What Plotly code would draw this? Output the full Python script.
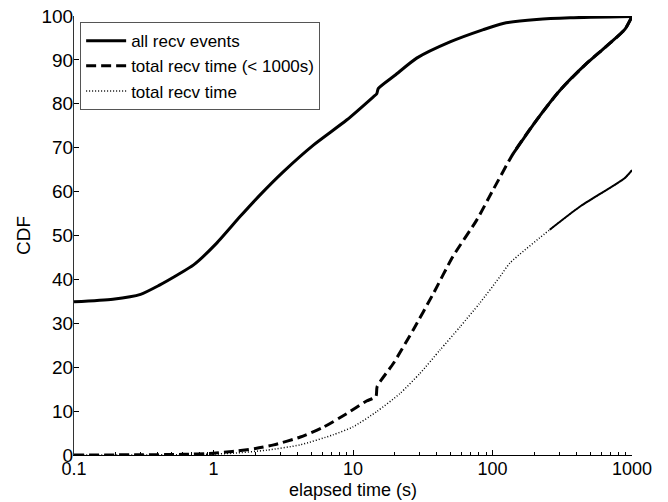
import plotly.graph_objects as go

# Elapsed time (s) and cumulative percentage for each series
all_events_t = [0.1, 0.19, 0.3, 0.41, 0.55, 0.72, 1.05, 1.55, 2.15, 3.16, 5.2, 9.0,
                14.0, 14.8, 15.2, 20, 28.6, 49.6, 86, 119, 207, 360, 1000]
all_events_cdf = [34.9, 35.5, 36.6, 38.7, 41.0, 43.3, 48.2, 54.3, 59.2, 64.5, 70.6, 76.3,
                  81.6, 82.3, 83.5, 86.5, 90.4, 94.1, 96.9, 98.3, 99.2, 99.6, 99.9]

short_total_t = [0.1, 0.3, 0.6, 1.0, 1.24, 1.5, 2.0, 2.7, 4.2, 6.1, 9.0, 12.5, 14.6, 14.9,
                 19.5, 27, 37.7, 52, 77, 101, 141, 207, 305, 473, 695, 891, 1000]
short_total_cdf = [0.0, 0.05, 0.15, 0.4, 0.7, 0.95, 1.5, 2.3, 4.1, 6.3, 9.4, 12.3, 13.3, 15.6,
                   20.9, 28.5, 36.8, 45.2, 53.5, 60.4, 68.7, 76.3, 83.1, 89.2, 93.8, 97.0, 99.9]

total_t = [0.1, 0.5, 1.0, 1.38, 2.4, 4.17, 7.2, 10, 14.8, 21.7, 30.2, 42, 58.5, 81,
           113, 133, 257, 424, 880, 1000]
total_cdf = [0.0, 0.05, 0.2, 0.4, 1.1, 2.3, 4.6, 6.4, 9.9, 14.0, 18.6, 23.9, 29.2, 34.6,
             40.6, 43.7, 51.3, 56.6, 63.0, 64.9]

x_tick_vals = [0.1, 1, 10, 100, 1000]
x_tick_text = ["0.1", "1", "10", "100", "1000"]
y_tick_vals = list(range(0, 101, 10))
x_title = "elapsed time (s)"
y_title = "CDF"

FONT = "Liberation Sans, Arial, Helvetica, sans-serif"
SMOOTH = 0.6


def tail(xs, ys, start):
    """Points of a curve from x >= start (densely sampled part, drawn solid)."""
    idx = [i for i, v in enumerate(xs) if v >= start]
    return [xs[i] for i in idx], [ys[i] for i in idx]


fig = go.Figure()

fig.add_trace(go.Scatter(
    x=all_events_t, y=all_events_cdf, mode="lines", name="all recv events",
    line=dict(color="black", width=3, shape="spline", smoothing=SMOOTH),
))
fig.add_trace(go.Scatter(
    x=short_total_t, y=short_total_cdf, mode="lines", name="total recv time (< 1000s)",
    line=dict(color="black", width=3, dash="10px,5px", shape="spline", smoothing=SMOOTH),
))
fig.add_trace(go.Scatter(
    x=total_t, y=total_cdf, mode="lines", name="total recv time",
    line=dict(color="black", width=1.5, dash="1px,2px", shape="spline", smoothing=SMOOTH),
))

# dense upper sections render as continuous strokes
tx, ty = tail(short_total_t, short_total_cdf, 141)
fig.add_trace(go.Scatter(x=tx, y=ty, mode="lines", showlegend=False, hoverinfo="skip",
                         line=dict(color="black", width=3, shape="spline", smoothing=SMOOTH)))
tx, ty = tail(total_t, total_cdf, 257)
fig.add_trace(go.Scatter(x=tx, y=ty, mode="lines", showlegend=False, hoverinfo="skip",
                         line=dict(color="black", width=2, shape="spline", smoothing=SMOOTH)))

minor_vals = [k * 10 ** e for e in (-1, 0, 1, 2) for k in range(2, 10)]

fig.update_layout(
    width=668, height=502,
    margin=dict(l=74, r=36, t=16, b=47),
    paper_bgcolor="white", plot_bgcolor="white",
    font=dict(family=FONT, size=19, color="black"),
    showlegend=True,
    legend=dict(
        x=0.011, y=0.986, xanchor="left", yanchor="top",
        bgcolor="white", bordercolor="#555", borderwidth=1,
        font=dict(family=FONT, size=17, color="black"),
        itemwidth=40, tracegroupgap=0,
    ),
    # x-axis title sits at the bottom edge, under the tick labels
    annotations=[dict(
        text=x_title, xref="paper", yref="paper", x=0.5, y=0,
        xanchor="center", yanchor="bottom", yshift=-46, showarrow=False,
        borderpad=0,
        font=dict(family=FONT, size=18, color="black"),
    )],
)

fig.update_xaxes(
    type="log", range=[-1, 3], automargin=False,
    tickmode="array", tickvals=x_tick_vals, ticktext=x_tick_text,
    ticks="inside", ticklen=5, tickcolor="black",
    minor=dict(tickmode="array", tickvals=minor_vals, ticks="inside",
               ticklen=3, tickcolor="black", showgrid=False),
    showline=True, linecolor="black", linewidth=1,
    showgrid=False, zeroline=False,
    tickfont=dict(family=FONT, size=18),
    ticklabelstandoff=-3,
)
fig.update_yaxes(
    range=[0, 100], automargin=False,
    tickmode="array", tickvals=y_tick_vals,
    ticks="inside", ticklen=5, tickcolor="black",
    showline=True, linecolor="#333", linewidth=1,
    showgrid=False, zeroline=False,
    tickfont=dict(family=FONT, size=19),
    ticklabelstandoff=-4,
    title=dict(text=y_title, font=dict(family=FONT, size=19), standoff=5),
)

fig.write_html("out.html")
